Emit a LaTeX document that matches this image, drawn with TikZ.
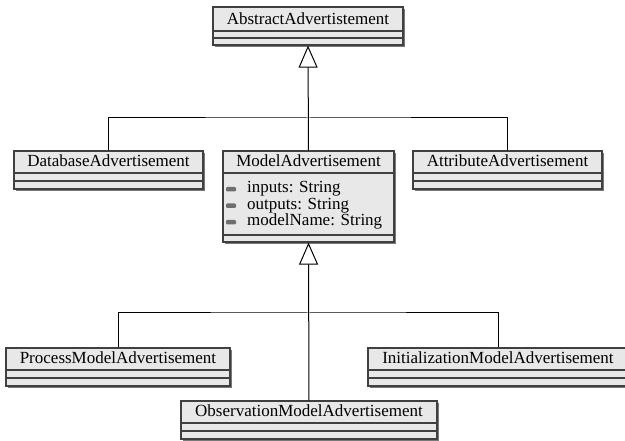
\documentclass[tikz,border=0pt]{standalone}
\usepackage{fontspec}
\setmainfont{Liberation Serif}
\usetikzlibrary{arrows.meta,fit,shadows}
\definecolor{boxfill}{RGB}{232,232,232}
\definecolor{boxdraw}{RGB}{64,64,64}
\definecolor{shadowc}{RGB}{120,120,120}
\definecolor{iconc}{RGB}{110,110,110}
\tikzset{
  classbox/.style={draw=boxdraw, line width=1.2pt, fill=boxfill, inner sep=0pt,
    drop shadow={shadow xshift=1.6pt, shadow yshift=-1.6pt, fill=shadowc, opacity=1}},
  sepline/.style={draw=boxdraw, line width=1.2pt},
  clstext/.style={font=\fontsize{17}{20}\selectfont, inner sep=0pt},
  attrtext/.style={font=\fontsize{17}{20}\selectfont, inner sep=0pt, anchor=base west},
  attricon/.style={fill=iconc, draw=none, rounded corners=1.2pt},
  conn/.style={draw=black, line width=1pt},
  gen/.style={conn, -{Triangle[open, length=22pt, width=19pt, line width=1pt]}}
}
\newcommand\umlcls[8]{%
  \node[classbox, fit={(#2,#3) (#4,#5)}] (#1) {};
  \draw[sepline] (#2,#6) -- (#4,#6);
  \draw[sepline] (#2,#7) -- (#4,#7);
  \node[clstext, anchor=base] (#1-t) at ({(#2+#4)/2},{#6-6}) {#8};
}
\newcommand\umlattr[3]{%
  \fill[attricon] (226,{#2-6}) rectangle (236,{#2-1.5});
  \node[attrtext] (#1) at (247,#2) {#3};
}
\begin{document}
\begin{tikzpicture}[x=1pt,y=-1pt]
\useasboundingbox (0,0) rectangle (625,441);
\umlcls{abs}{213}{7}{403}{45}{31}{38}{AbstractAdvertistement}
\umlcls{db}{14}{151}{203}{189}{173}{181}{DatabaseAdvertisement}
\umlcls{model}{223}{151}{394}{242}{173}{235}{ModelAdvertisement}
\umlcls{attr}{413}{151}{602}{189}{173}{181}{AttributeAdvertisement}
\umlcls{proc}{6}{348}{230}{386}{370}{378}{ProcessModelAdvertisement}
\umlcls{obs}{181}{401}{437}{439}{423}{431}{ObservationModelAdvertisement}
\umlcls{init}{368}{348}{628}{386}{370}{378}{InitializationModelAdvertisement}
\umlattr{a1}{193}{inputs: String}
\umlattr{a2}{209.5}{outputs: String}
\umlattr{a3}{226}{modelName: String}
\coordinate (j1) at (308.5,118);
\coordinate (j2) at (308.5,313);
\draw[gen] (model.north) -- (abs.south);
\draw[conn] (db.north) |- (j1) -| (attr.north);
\draw[gen] (obs.north) -- (model.south);
\draw[conn] (proc.north) |- (j2) -| (init.north);
\end{tikzpicture}
\end{document}
